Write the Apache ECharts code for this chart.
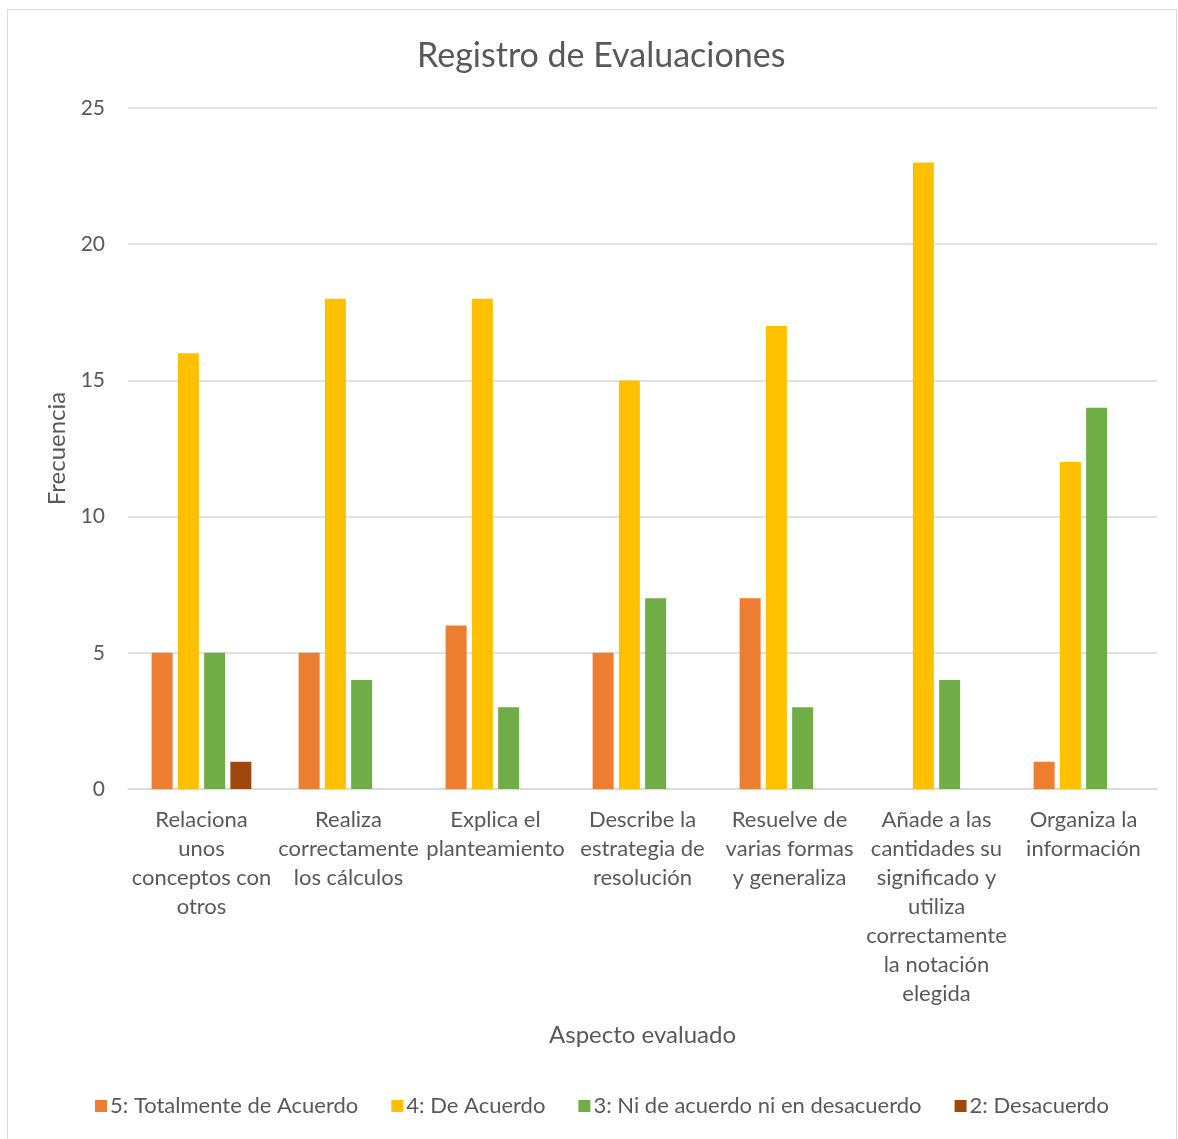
<!DOCTYPE html>
<html>
<head>
<meta charset="utf-8">
<script src="https://cdn.jsdelivr.net/npm/echarts@6/dist/echarts.min.js"></script>
<style>
    html, body { margin: 0; padding: 0; background: #fff; }
    #frame { position: absolute; left: 7px; top: 9px; width: 1170px; height: 1140px; border: 1px solid #d9d9d9; box-sizing: border-box; }
    #chart { position: absolute; left: 0; top: 0; width: 1178px; height: 1139px; }
</style>
</head>
<body>
<div id="frame"></div>
<div id="chart"></div>
<script>
var categories = [
    'Relaciona\nunos\nconceptos con\notros',
    'Realiza\ncorrectamente\nlos cálculos',
    'Explica el\nplanteamiento',
    'Describe la\nestrategia de\nresolución',
    'Resuelve de\nvarias formas\ny generaliza',
    'Añade a las\ncantidades su\nsignificado y\nutiliza\ncorrectamente\nla notación\nelegida',
    'Organiza la\ninformación'
];
var seriesNames = ['5: Totalmente de Acuerdo', '4: De Acuerdo', '3: Ni de acuerdo ni en desacuerdo', '2: Desacuerdo'];
var totalmente = [5, 5, 6, 5, 7, '-', 1];
var deAcuerdo = [16, 18, 18, 15, 17, 23, 12];
var niNi = [5, 4, 3, 7, 3, 4, 14];
var desacuerdo = [1, '-', '-', '-', '-', '-', '-'];
var colors = ['#ED7D31', '#FFC000', '#70AD47', '#9E480E'];

var chart = echarts.init(document.getElementById('chart'));
var font = 'Lato, "Open Sans", sans-serif';
var values = [totalmente, deAcuerdo, niNi, desacuerdo];

var series = [];
for (var i = 0; i < seriesNames.length; i++) {
    series.push({
        name: seriesNames[i],
        type: 'bar',
        barWidth: 21,
        barGap: '25%',
        itemStyle: { color: colors[i] },
        data: values[i]
    });
}

chart.setOption({
    animation: false,
    color: colors,
    textStyle: { fontFamily: font, color: '#595959' },
    title: {
        text: 'Registro de Evaluaciones',
        left: 412,
        top: 34,
        textStyle: { fontFamily: font, fontSize: 34, fontWeight: 'normal', color: '#595959' }
    },
    legend: {
        bottom: 17,
        left: 90,
        icon: 'rect',
        itemWidth: 12,
        itemHeight: 12,
        itemGap: 33,
        textStyle: { fontFamily: font, fontSize: 22, color: '#595959', padding: [0, 0, 0, -2] },
        data: seriesNames
    },
    grid: { left: 128, right: 21, top: 108, bottom: 350 },
    xAxis: {
        type: 'category',
        data: categories,
        name: 'Aspecto evaluado',
        nameLocation: 'middle',
        nameGap: 234,
        nameTextStyle: { fontFamily: font, fontSize: 24, color: '#595959' },
        axisLine: { lineStyle: { color: '#d9d9d9', width: 1.5 } },
        axisTick: { show: false },
        axisLabel: { interval: 0, fontSize: 22, lineHeight: 29, margin: 16, color: '#595959', fontFamily: font }
    },
    yAxis: {
        type: 'value',
        min: 0,
        max: 25,
        interval: 5,
        name: 'Frecuencia',
        nameLocation: 'middle',
        nameGap: 56,
        nameTextStyle: { fontFamily: font, fontSize: 24, color: '#595959' },
        axisLine: { show: false },
        axisTick: { show: false },
        axisLabel: { fontSize: 21, margin: 23, color: '#595959', fontFamily: font },
        splitLine: { lineStyle: { color: '#d9d9d9', width: 1.5 } }
    },
    series: series
});
</script>
</body>
</html>
